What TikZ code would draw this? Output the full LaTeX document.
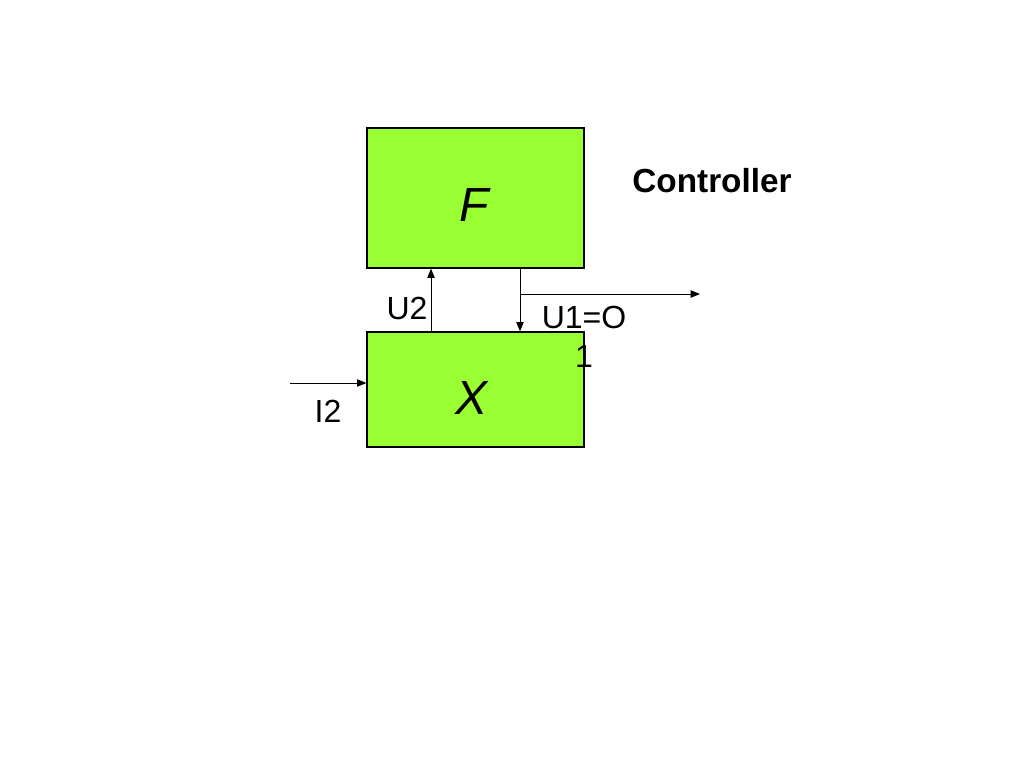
\documentclass[tikz,border=0pt]{standalone}
\usepackage{fontspec}
\setmainfont{Liberation Sans}
\usetikzlibrary{arrows.meta}
\definecolor{boxgreen}{RGB}{153,255,51}
\begin{document}
\begin{tikzpicture}[x=0.75pt,y=-0.75pt,
  blockbox/.style={draw=black,line width=0.9pt,fill=boxgreen,inner sep=0pt},
  arr/.style={line width=0.75pt,-{Triangle[length=7pt,width=5.5pt]}},
  lbl/.style={inner sep=0pt,font=\fontsize{24}{29}\selectfont}]
\useasboundingbox (0,0) rectangle (1024,768);
\node[blockbox,minimum width=162.75pt,minimum height=105pt] (F) at (475.5,198) {};
\node[blockbox,minimum width=162.75pt,minimum height=86.25pt] (X) at (475.5,389.5) {};
\node[inner sep=0pt,font=\fontsize{36}{40}\selectfont\itshape] (Ft) at (474,205) {F};
\node[inner sep=0pt,font=\fontsize{36}{40}\selectfont\itshape] (Xt) at (472,398) {X};
\coordinate (u2x) at (431,0);
\coordinate (u1x) at (520,0);
\coordinate (br) at (520,294);
\coordinate (out) at (700,294);
\coordinate (in) at (290,383);
\draw[arr] (X.north -| u2x) -- (F.south -| u2x);
\draw[arr] (F.south -| u1x) -- (X.north -| u1x);
\draw[arr] (br) -- (out);
\draw[arr] (in) -- (X.west |- in);
\node[lbl] (U2) at (407,308) {U2};
\node[lbl,align=center] (U1) at (584,337) {U1=O\\1};
\node[lbl] (I2) at (328,411) {I2};
\node[lbl,font=\fontsize{25}{29}\selectfont\bfseries] (C) at (712,181) {Controller};
\end{tikzpicture}
\end{document}
